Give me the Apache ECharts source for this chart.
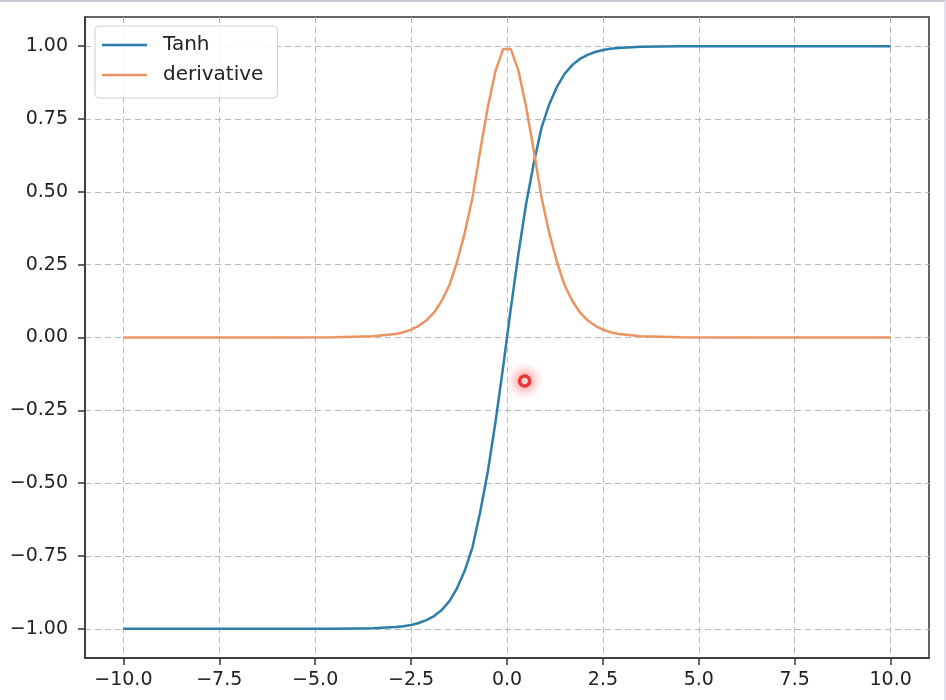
<!DOCTYPE html>
<html>
<head>
<meta charset="utf-8">
<script src="https://cdn.jsdelivr.net/npm/echarts@6/dist/echarts.min.js"></script>
<style>
  html, body { margin: 0; padding: 0; background: #fff; }
  #chart { width: 946px; height: 700px; box-sizing: border-box; border-top: 2px solid #c9cad3; border-right: 2px solid #e2e3ea; }
</style>
</head>
<body>
<div id="chart"></div>
<script>
// values
const xs = [-10, -8, -6, -4.5, -3.5, -2.9, -2.7, -2.5, -2.3, -2.1, -1.9, -1.7, -1.5, -1.3, -1.1, -0.9, -0.7, -0.5, -0.3, -0.1,
  0.1, 0.3, 0.5, 0.7, 0.9, 1.1, 1.3, 1.5, 1.7, 1.9, 2.1, 2.3, 2.5, 2.7, 2.9, 3.5, 4.5, 6, 8, 10];
const tanhVals = [-1, -1, -1, -1, -0.998, -0.994, -0.991, -0.987, -0.98, -0.97, -0.956, -0.935, -0.905, -0.86, -0.8, -0.72, -0.6, -0.46, -0.29, -0.1,
  0.1, 0.29, 0.46, 0.6, 0.72, 0.8, 0.86, 0.905, 0.935, 0.956, 0.97, 0.98, 0.987, 0.991, 0.994, 0.998, 1, 1, 1, 1];
const derivVals = [0, 0, 0, 0.0005, 0.004, 0.012, 0.018, 0.027, 0.04, 0.059, 0.086, 0.126, 0.18, 0.26, 0.36, 0.48, 0.64, 0.79, 0.915, 0.99,
  0.99, 0.915, 0.79, 0.64, 0.48, 0.36, 0.26, 0.18, 0.126, 0.086, 0.059, 0.04, 0.027, 0.018, 0.012, 0.004, 0.0005, 0, 0, 0];
const xTicks = [-10, -7.5, -5, -2.5, 0, 2.5, 5, 7.5, 10];
const yTicks = [-1, -0.75, -0.5, -0.25, 0, 0.25, 0.5, 0.75, 1];
const cursorPoint = [[0.46, -0.149]];

const minus = s => s.replace('-', '\u2212');
const font = 'DejaVu Sans';
const lineIcon = 'path://M0,0 L45,0 L45,2.4 L0,2.4 Z';

const myChart = echarts.init(document.getElementById('chart'));
myChart.setOption({
  animation: false,
  grid: {
    left: 85, right: 15, top: 15, bottom: 42,
    show: true, borderColor: '#333', borderWidth: 1.5
  },
  legend: {
    data: [
      { name: 'Tanh', icon: lineIcon },
      { name: 'derivative', icon: lineIcon }
    ],
    orient: 'vertical',
    left: 95, top: 24,
    padding: [7, 14, 11, 7],
    itemWidth: 45, itemHeight: 14, itemGap: 6,
    backgroundColor: 'rgba(255,255,255,0.85)',
    borderColor: '#d0d0d0', borderWidth: 1, borderRadius: 4,
    textStyle: { fontFamily: font, fontSize: 20, color: '#222', lineHeight: 24, padding: [0, 0, 0, 11] }
  },
  xAxis: {
    type: 'value', min: -11, max: 11,
    axisLine: { show: true, onZero: false, lineStyle: { color: '#333', width: 1.5 } },
    axisTick: { show: true, length: 7, customValues: xTicks, lineStyle: { color: '#333', width: 1.5 } },
    axisLabel: {
      customValues: xTicks, margin: 13,
      fontFamily: font, fontSize: 19, color: '#222',
      formatter: v => minus(v.toFixed(1))
    },
    splitLine: { show: true, lineStyle: { color: '#b8b8b8', type: [6, 4], width: 1 } }
  },
  yAxis: {
    type: 'value', min: -1.1, max: 1.1,
    axisLine: { show: true, onZero: false, lineStyle: { color: '#333', width: 1.5 } },
    axisTick: { show: true, length: 7, customValues: yTicks, lineStyle: { color: '#333', width: 1.5 } },
    axisLabel: {
      customValues: yTicks, margin: 17,
      fontFamily: font, fontSize: 19, color: '#222',
      formatter: v => minus(v.toFixed(2))
    },
    splitLine: { show: true, lineStyle: { color: '#b8b8b8', type: [6, 4], width: 1 } }
  },
  series: [
    {
      name: 'Tanh', type: 'line', symbol: 'none',
      data: xs.map((x, i) => [x, tanhVals[i]]),
      lineStyle: { color: '#2a7ea8', width: 2.5 },
      itemStyle: { color: '#2a7ea8' }
    },
    {
      name: 'derivative', type: 'line', symbol: 'none',
      data: xs.map((x, i) => [x, derivVals[i]]),
      lineStyle: { color: '#e99461', width: 2.5 },
      itemStyle: { color: '#e99461' }
    },
    {
      // soft halo of the screen-recorder cursor
      name: 'cursorGlow', type: 'scatter', symbol: 'circle', symbolSize: 40,
      data: cursorPoint, silent: true,
      itemStyle: {
        color: new echarts.graphic.RadialGradient(0.5, 0.5, 0.5, [
          { offset: 0, color: 'rgba(255,50,50,0.8)' },
          { offset: 0.5, color: 'rgba(255,120,120,0.4)' },
          { offset: 1, color: 'rgba(255,210,210,0)' }
        ])
      },
      z: 4
    },
    {
      name: 'cursor', type: 'scatter', symbol: 'circle', symbolSize: 10,
      data: cursorPoint, silent: true,
      itemStyle: { color: '#ffe6e6', borderColor: '#e41313', borderWidth: 3.5 },
      z: 5
    }
  ]
});
</script>
</body>
</html>
